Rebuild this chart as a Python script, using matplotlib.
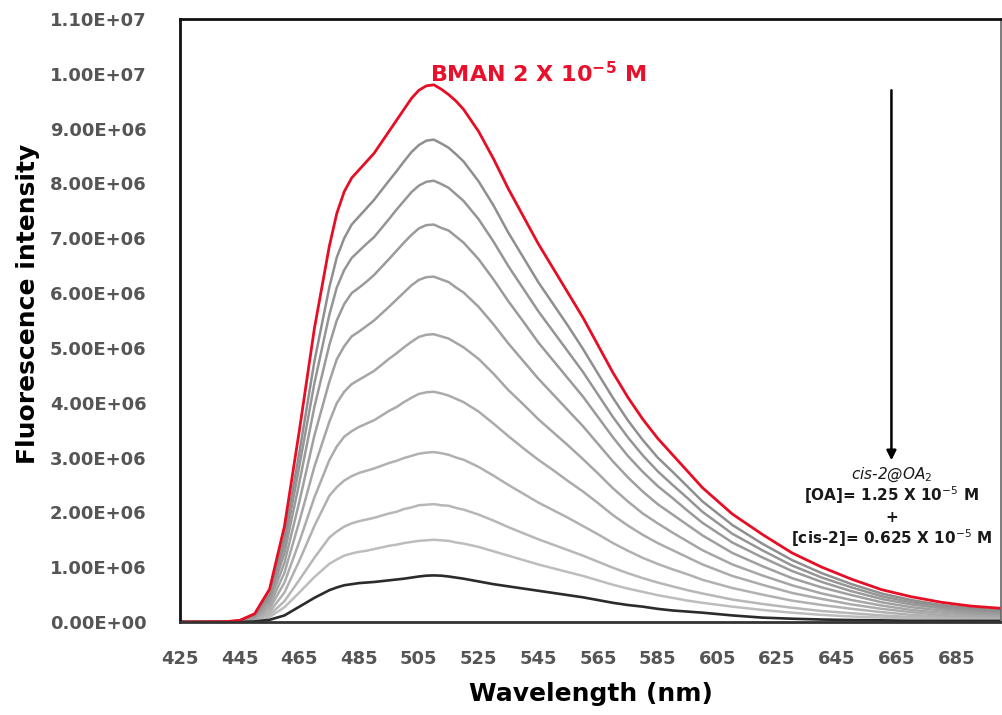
import matplotlib
matplotlib.use("Agg")
import matplotlib.pyplot as plt
import numpy as np

# ---------------- data ----------------
wavelength = [425, 440, 445, 450, 455, 460, 465, 470, 475,
              477.5, 480, 482.5, 485, 487.5, 490,
              495, 497.5, 500, 502.5, 505, 507.5, 510, 512.5, 515, 517.5, 520,
              525, 530, 535, 540, 545, 550, 555, 560, 565, 570, 575, 580,
              585, 590, 595, 600,
              610, 620, 630, 640, 650, 660, 670, 680, 690, 700]

# intensities in units of 1e6
bman = [0, 0.005, 0.03, 0.15, 0.6, 1.75, 3.5, 5.35, 6.85,
        7.45, 7.85, 8.1, 8.25, 8.4, 8.55,
        8.95, 9.15, 9.35, 9.55, 9.7, 9.78, 9.8, 9.72, 9.62, 9.5, 9.35,
        8.95, 8.45, 7.9, 7.4, 6.9, 6.45, 6.0, 5.55, 5.05, 4.55, 4.1, 3.7,
        3.35, 3.05, 2.75, 2.45,
        1.97, 1.6, 1.26, 1.0, 0.78, 0.59, 0.46, 0.36, 0.29, 0.25]

add_1 = [0, 0.004, 0.027, 0.13, 0.52, 1.55, 3.1, 4.75, 6.1,
         6.65, 7.0, 7.25, 7.4, 7.55, 7.7,
         8.05, 8.22, 8.4, 8.57, 8.7, 8.78, 8.8, 8.73, 8.65, 8.53, 8.4,
         8.04, 7.6, 7.1, 6.65, 6.2, 5.8, 5.4, 4.98, 4.53, 4.09, 3.68, 3.32,
         3.0, 2.74, 2.47, 2.2,
         1.77, 1.43, 1.13, 0.89, 0.69, 0.52, 0.4, 0.31, 0.25, 0.21]

add_2 = [0, 0.004, 0.024, 0.12, 0.47, 1.4, 2.85, 4.35, 5.6,
         6.1, 6.42, 6.64, 6.77, 6.9, 7.02,
         7.35, 7.52, 7.68, 7.84, 7.96, 8.03, 8.05, 7.99, 7.92, 7.8, 7.68,
         7.35, 6.94, 6.49, 6.08, 5.67, 5.3, 4.93, 4.56, 4.15, 3.74, 3.37, 3.04,
         2.75, 2.5, 2.26, 2.01,
         1.61, 1.31, 1.03, 0.81, 0.63, 0.47, 0.36, 0.28, 0.22, 0.19]

add_3 = [0, 0.003, 0.02, 0.1, 0.42, 1.26, 2.55, 3.92, 5.05,
         5.5, 5.8, 6.0, 6.1, 6.21, 6.33,
         6.62, 6.77, 6.92, 7.06, 7.18, 7.24, 7.25, 7.19, 7.14, 7.03, 6.92,
         6.62, 6.25, 5.85, 5.48, 5.1, 4.77, 4.44, 4.11, 3.74, 3.37, 3.03, 2.74,
         2.48, 2.26, 2.03, 1.81,
         1.45, 1.18, 0.93, 0.73, 0.56, 0.42, 0.32, 0.25, 0.19, 0.16]

add_4 = [0, 0.003, 0.018, 0.09, 0.36, 1.08, 2.2, 3.4, 4.38,
         4.79, 5.03, 5.21, 5.3, 5.4, 5.5,
         5.75, 5.88, 6.01, 6.14, 6.24, 6.29, 6.3, 6.25, 6.2, 6.1, 6.01,
         5.75, 5.43, 5.08, 4.76, 4.44, 4.15, 3.86, 3.57, 3.25, 2.93, 2.64, 2.38,
         2.15, 1.96, 1.77, 1.58,
         1.26, 1.02, 0.8, 0.63, 0.49, 0.36, 0.27, 0.21, 0.16, 0.14]

add_5 = [0, 0.002, 0.015, 0.07, 0.3, 0.9, 1.84, 2.83, 3.65,
         3.99, 4.2, 4.34, 4.42, 4.5, 4.58,
         4.8, 4.9, 5.01, 5.11, 5.2, 5.24, 5.25, 5.21, 5.17, 5.09, 5.01,
         4.8, 4.53, 4.23, 3.97, 3.7, 3.46, 3.22, 2.97, 2.71, 2.44, 2.2, 1.98,
         1.8, 1.63, 1.47, 1.31,
         1.05, 0.85, 0.67, 0.52, 0.4, 0.3, 0.22, 0.17, 0.13, 0.11]

add_6 = [0, 0.002, 0.012, 0.06, 0.24, 0.72, 1.47, 2.27, 2.95,
         3.2, 3.38, 3.48, 3.56, 3.62, 3.68,
         3.85, 3.92, 4.01, 4.09, 4.16, 4.19, 4.2, 4.17, 4.13, 4.07, 4.01,
         3.84, 3.62, 3.39, 3.17, 2.96, 2.77, 2.57, 2.38, 2.17, 1.95, 1.76, 1.59,
         1.44, 1.31, 1.18, 1.05,
         0.84, 0.68, 0.53, 0.42, 0.32, 0.24, 0.18, 0.13, 0.1, 0.09]

add_7 = [0, 0.001, 0.009, 0.045, 0.18, 0.54, 1.12, 1.75, 2.3,
         2.46, 2.58, 2.66, 2.72, 2.76, 2.8,
         2.9, 2.94, 2.99, 3.03, 3.07, 3.09, 3.1, 3.08, 3.05, 3.0, 2.96,
         2.83, 2.67, 2.5, 2.34, 2.18, 2.04, 1.9, 1.75, 1.6, 1.44, 1.3, 1.17,
         1.06, 0.96, 0.87, 0.77,
         0.62, 0.5, 0.39, 0.31, 0.24, 0.18, 0.13, 0.1, 0.08, 0.07]

add_8 = [0, 0.001, 0.006, 0.03, 0.13, 0.38, 0.77, 1.17, 1.54,
         1.65, 1.74, 1.8, 1.84, 1.87, 1.9,
         1.98, 2.01, 2.06, 2.09, 2.13, 2.14, 2.15, 2.13, 2.12, 2.08, 2.05,
         1.96, 1.85, 1.73, 1.62, 1.51, 1.41, 1.31, 1.21, 1.1, 0.99, 0.89, 0.8,
         0.72, 0.65, 0.58, 0.52,
         0.41, 0.33, 0.26, 0.2, 0.16, 0.12, 0.09, 0.07, 0.06, 0.05]

add_9 = [0, 0.001, 0.004, 0.02, 0.09, 0.27, 0.54, 0.82, 1.06,
         1.14, 1.21, 1.25, 1.28, 1.3, 1.33,
         1.39, 1.41, 1.44, 1.46, 1.48, 1.49, 1.5, 1.49, 1.48, 1.45, 1.43,
         1.37, 1.29, 1.21, 1.13, 1.05, 0.98, 0.91, 0.84, 0.76, 0.68, 0.61, 0.55,
         0.49, 0.44, 0.39, 0.35,
         0.28, 0.22, 0.17, 0.13, 0.1, 0.08, 0.06, 0.05, 0.04, 0.04]

cis2_oa2 = [0, 0, 0, 0.01, 0.04, 0.12, 0.28, 0.44, 0.58,
            0.63, 0.67, 0.69, 0.71, 0.72, 0.73,
            0.76, 0.775, 0.79, 0.81, 0.83, 0.845, 0.85, 0.845, 0.83, 0.81, 0.79,
            0.74, 0.69, 0.65, 0.61, 0.57, 0.53, 0.49, 0.45, 0.4, 0.35, 0.31, 0.28,
            0.24, 0.21, 0.19, 0.17,
            0.12, 0.08, 0.06, 0.045, 0.035, 0.03, 0.02, 0.02, 0.02, 0.02]

gray_series = [add_1, add_2, add_3, add_4, add_5, add_6, add_7, add_8, add_9]

x_ticks = [425, 445, 465, 485, 505, 525, 545, 565, 585, 605, 625, 645, 665, 685]
y_ticks = [0, 1e6, 2e6, 3e6, 4e6, 5e6, 6e6, 7e6, 8e6, 9e6, 1e7, 1.1e7]
y_tick_labels = ["0.00E+00", "1.00E+06", "2.00E+06", "3.00E+06", "4.00E+06",
                 "5.00E+06", "6.00E+06", "7.00E+06", "8.00E+06", "9.00E+06",
                 "1.00E+07", "1.10E+07"]

# ---------------- figure ----------------
fig = plt.figure(figsize=(10.03, 7.15), dpi=100)
ax = fig.add_axes([180 / 1003, 1 - 622 / 715, 821 / 1003, 603 / 715])

wl = np.array(wavelength)
gray_levels = np.linspace(0.56, 0.74, len(gray_series))
for series, g in zip(gray_series[::-1], gray_levels[::-1]):
    ax.plot(wl, np.array(series) * 1e6, color=(g, g, g), lw=1.8,
            solid_joinstyle="round")
ax.plot(wl, np.array(cis2_oa2) * 1e6, color="#2b2b2b", lw=1.9)
ax.plot(wl, np.array(bman) * 1e6, color="#e60e25", lw=2.0)

ax.set_xlim(425, 700)
ax.set_ylim(0, 1.1e7)
ax.set_xticks(x_ticks)
ax.set_yticks(y_ticks)
ax.set_yticklabels(y_tick_labels)
ax.tick_params(length=0, labelsize=13, labelcolor="#555555")
ax.tick_params(axis="y", pad=24)
ax.tick_params(axis="x", pad=20)
for lab in ax.get_xticklabels() + ax.get_yticklabels():
    lab.set_fontweight("bold")

for side in ["left", "top"]:
    ax.spines[side].set_linewidth(2.0)
    ax.spines[side].set_color("#111111")
ax.spines["bottom"].set_linewidth(2.0)
ax.spines["bottom"].set_color("#333333")
ax.spines["right"].set_linewidth(1.2)
ax.spines["right"].set_color("#666666")

ax.set_xlabel("Wavelength (nm)", fontsize=18, fontweight="bold", labelpad=10)
ax.set_ylabel("Fluorescence intensity", fontsize=18, fontweight="bold")
ax.yaxis.set_label_coords(-0.171, 0.527)

ax.text(545, 1.0e7, r"BMAN 2 X 10$^{\mathbf{-5}}$ M", color="#e8102a",
        fontsize=16, fontweight="bold", ha="center", va="center")

ax.annotate("", xy=(663.3, 2.95e6), xytext=(663.3, 9.7e6),
            arrowprops=dict(arrowstyle="-|>", color="black", lw=1.8,
                            mutation_scale=14, shrinkA=0, shrinkB=0))

tc = "#1a1a1a"
ax.text(663.3, 2.68e6, r"cis-2@OA$_{2}$", style="italic", fontsize=11,
        ha="center", va="center", color=tc)
ax.text(663.3, 2.31e6, r"[OA]= 1.25 X 10$^{-5}$ M", fontsize=11,
        ha="center", va="center", color=tc, fontweight="semibold")
ax.text(663.3, 1.90e6, "+", fontsize=11, ha="center", va="center",
        color=tc, fontweight="bold")
ax.text(663.3, 1.53e6, r"[cis-2]= 0.625 X 10$^{-5}$ M", fontsize=11,
        ha="center", va="center", color=tc, fontweight="semibold")

fig.savefig("out.png", dpi=100)
